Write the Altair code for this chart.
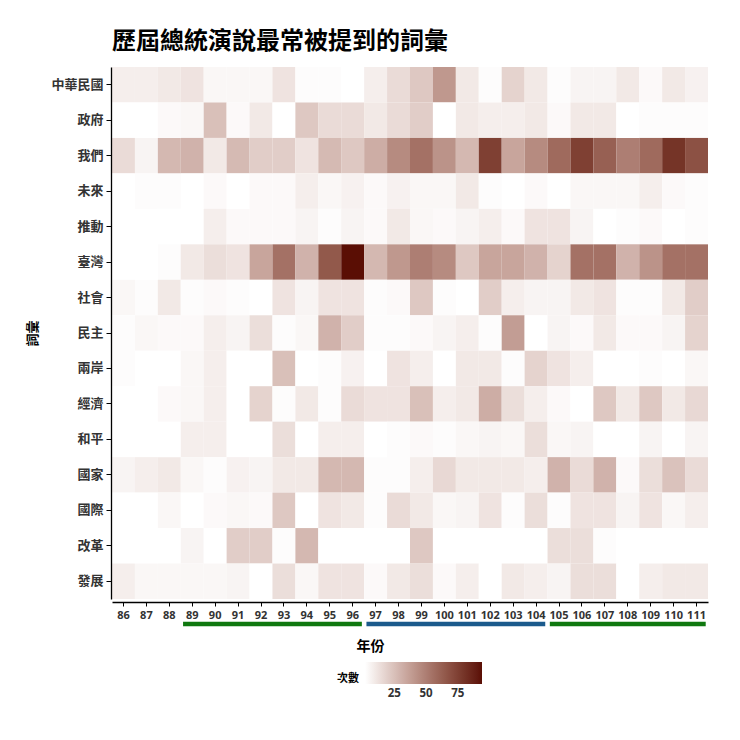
import altair as alt
import pandas as pd

years = list(range(86, 112))
words = ["中華民國", "政府", "我們", "未來", "推動", "臺灣", "社會", "民主",
         "兩岸", "經濟", "和平", "國家", "國際", "改革", "發展"]

c_zhonghua = [8, 8, 10, 12, 5, 5, 5, 12, 3, 3, 2, 8, 15, 22, 40, 10, 3, 18, 10, 3, 6, 6, 10, 4, 10, 7]
c_zhengfu = [2, 2, 4, 5, 25, 4, 10, 2, 22, 15, 15, 10, 15, 20, 2, 10, 8, 8, 10, 4, 10, 10, 2, 3, 3, 3]
c_women = [15, 6, 28, 30, 10, 27, 20, 20, 12, 27, 22, 32, 45, 55, 42, 28, 75, 35, 45, 58, 75, 62, 50, 58, 80, 68]
c_weilai = [2, 3, 3, 2, 4, 2, 4, 4, 8, 5, 7, 4, 7, 5, 5, 10, 3, 2, 4, 2, 5, 5, 5, 8, 4, 3]
c_tuidong = [2, 2, 2, 2, 8, 4, 4, 4, 6, 3, 6, 4, 10, 5, 4, 6, 8, 4, 12, 12, 6, 2, 3, 4, 2, 3]
c_taiwan = [2, 2, 3, 10, 14, 12, 35, 55, 30, 65, 94, 28, 40, 50, 45, 22, 35, 35, 30, 18, 55, 55, 30, 42, 55, 55]
c_shehui = [5, 3, 10, 3, 4, 3, 2, 12, 6, 12, 12, 3, 4, 22, 3, 2, 20, 8, 6, 6, 10, 12, 3, 3, 10, 20]
c_minzhu = [3, 5, 4, 4, 8, 6, 14, 3, 5, 30, 20, 3, 3, 4, 6, 8, 3, 38, 2, 6, 4, 10, 4, 4, 6, 18]
c_liangan = [3, 2, 2, 5, 8, 2, 2, 25, 2, 3, 7, 2, 12, 8, 2, 10, 10, 3, 18, 12, 8, 2, 2, 3, 2, 5]
c_jingji = [2, 2, 4, 5, 8, 2, 18, 3, 10, 3, 15, 12, 12, 25, 8, 10, 32, 14, 8, 4, 2, 22, 10, 22, 10, 16]
c_heping = [2, 2, 2, 8, 8, 2, 2, 14, 2, 8, 8, 2, 3, 4, 3, 5, 6, 5, 14, 5, 6, 2, 2, 6, 2, 6]
c_guojia = [6, 8, 10, 5, 3, 7, 6, 10, 10, 28, 28, 3, 3, 8, 16, 10, 10, 10, 8, 30, 15, 30, 4, 14, 24, 15]
c_guoji = [2, 2, 5, 2, 4, 5, 4, 22, 2, 12, 10, 3, 15, 10, 5, 6, 12, 3, 14, 3, 12, 12, 6, 12, 5, 8]
c_gaige = [2, 2, 2, 6, 2, 20, 20, 3, 28, 2, 2, 2, 2, 22, 2, 2, 2, 2, 2, 14, 14, 3, 2, 2, 2, 2]
c_fazhan = [8, 5, 5, 5, 5, 6, 2, 14, 5, 12, 12, 4, 10, 14, 4, 8, 2, 10, 8, 6, 14, 14, 2, 8, 10, 10]

counts = [c_zhonghua, c_zhengfu, c_women, c_weilai, c_tuidong, c_taiwan, c_shehui,
          c_minzhu, c_liangan, c_jingji, c_heping, c_guojia, c_guoji, c_gaige, c_fazhan]

# presidential terms shown under the axis
term_start = [89, 97, 105]
term_end = [96, 104, 111]
term_party = ["民進黨", "國民黨", "民進黨"]

rows = []
for w, vals in zip(words, counts):
    for y, v in zip(years, vals):
        rows.append({"年份": y, "詞彙": w, "次數": v})
df = pd.DataFrame(rows)
terms = pd.DataFrame({"start": term_start, "end": term_end, "party": term_party})

CJK = "Noto Sans CJK TC"

heat = alt.Chart(df).mark_rect().encode(
    x=alt.X("年份:O", title="年份",
            axis=alt.Axis(labelAngle=0, offset=3, tickSize=4, labelPadding=3,
                          labelFont="Noto Sans", labelFontWeight="bold", labelFontSize=11,
                          labelColor="#333333", domainColor="#000000", tickColor="#000000",
                          domainWidth=1.3, titleFont=CJK, titleFontSize=14,
                          titleFontWeight="bold", titleColor="#000000",
                          titleX=258, titleY=44, titleBaseline="middle")),
    y=alt.Y("詞彙:N", sort=words, title="詞彙",
            axis=alt.Axis(offset=1, tickSize=5, labelPadding=3, labelFont=CJK,
                          labelFontWeight="bold", labelFontSize=13, labelColor="#333333",
                          domainColor="#000000", tickColor="#000000", domainWidth=1.3,
                          titleFont=CJK, titleFontSize=13, titleFontWeight="bold",
                          titleColor="#000000", titleX=-79, titleY=266,
                          titleBaseline="middle", titleAlign="center")),
    color=alt.Color("次數:Q",
                    scale=alt.Scale(range=["#ffffff", "#5a0e04"], interpolate="lab"),
                    legend=alt.Legend(title="次數", orient="none", legendX=225, legendY=595,
                                      direction="horizontal", titleOrient="left",
                                      titleAnchor="end", titleBaseline="bottom",
                                      gradientLength=117, gradientThickness=22,
                                      values=[25, 50, 75], titleFont=CJK, titleFontSize=11,
                                      titleFontWeight="bold", titleColor="#000000",
                                      titlePadding=6, labelFont="Noto Sans",
                                      labelFontWeight="bold", labelFontSize=11.5,
                                      labelColor="#333333")),
)

segs = alt.Chart(terms).mark_rule(strokeWidth=4.5).encode(
    x=alt.X("start:O", bandPosition=0.1, title="年份"),
    x2=alt.X2("end", bandPosition=0.9),
    y=alt.value(557),
    stroke=alt.Stroke("party:N", scale=alt.Scale(domain=["民進黨", "國民黨"],
                                                 range=["#0f780f", "#1b5a8c"]),
                      legend=None),
)

chart = alt.layer(heat, segs).properties(
    width=596, height=532,
    title=alt.Title("歷屆總統演說最常被提到的詞彙", anchor="start", frame="group",
                    font=CJK, fontSize=24, fontWeight="bold", color="#000000", offset=13),
    autosize=alt.AutoSizeParams(type="none"),
    padding={"left": 104, "top": 59, "right": 24, "bottom": 125},
).configure_view(stroke=None).configure_axis(grid=False).configure_legend(
    gradientLabelOffset=4)

chart.save("out.html", embed_options={"renderer": "svg", "actions": False})
